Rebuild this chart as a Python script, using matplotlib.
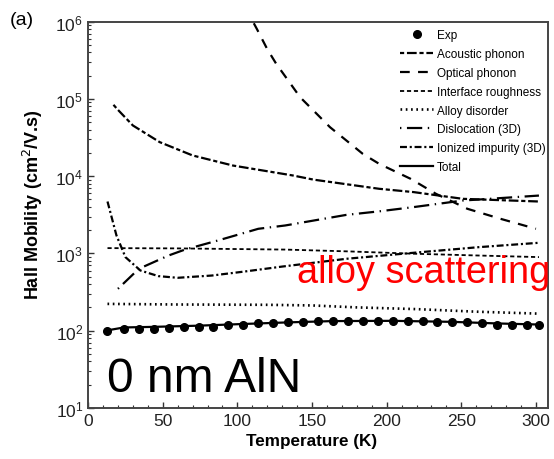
import numpy as np
import matplotlib
matplotlib.use("Agg")
from matplotlib import pyplot as plt
from matplotlib.ticker import MultipleLocator, LogLocator, NullFormatter

plt.rcParams["font.family"] = ["Liberation Sans", "DejaVu Sans"]
plt.rcParams["lines.scale_dashes"] = False

# ------------------------------------------------------------
# Dados
# ------------------------------------------------------------

T_exp = [13, 24, 34, 44, 54, 64, 74, 84, 94, 104, 114, 124, 134, 144, 154,
         164, 174, 184, 194, 204, 214, 224, 234, 244, 254, 264, 274, 284, 294, 302]
mu_exp = [99, 104, 104, 106, 109, 110, 113, 113, 117, 120, 124, 124, 129, 129, 133,
          133, 133, 133, 133, 133, 133, 133, 129, 129, 129, 125, 120, 120, 120, 117]

T_ac = [17, 20, 30, 48, 70, 97, 137, 151, 195, 218, 251, 302]
mu_ac = [83600, 72000, 45200, 27500, 18500, 13700, 10200, 9000, 6850, 6210, 5080, 4690]

T_op = [111, 113, 120, 126, 134, 142, 152, 162, 173, 184, 195, 216, 233, 254, 276, 300]
mu_op = [9.5e5, 8.05e5, 4.4e5, 2.84e5, 1.73e5, 1.05e5, 6.73e4, 4.3e4, 2.89e4,
         1.94e4, 1.44e4, 9230, 5900, 3780, 2810, 2080]

T_ir = [13, 60, 132, 175, 218, 260, 302]
mu_ir = [1170, 1160, 1120, 1060, 990, 940, 895]

T_al = [13, 60, 120, 150, 180, 220, 260, 302]
mu_al = [222, 218, 216, 212, 200, 190, 176, 166]

T_dis = [20, 34, 54, 65, 87, 114, 132, 173, 195, 218, 251, 262, 302]
mu_dis = [348, 632, 940, 1122, 1469, 2080, 2296, 3150, 3500, 3970, 4830, 4980, 5600]

T_ii = [13, 19, 25, 35, 47, 60, 83, 105, 130, 173, 218, 262, 302]
mu_ii = [4690, 1707, 895, 601, 508, 483, 517, 583, 675, 851, 1018, 1205, 1371]

T_tot = [13, 24, 44, 74, 104, 134, 164, 204, 244, 274, 302]
mu_tot = [101, 110, 112, 116, 122, 128, 133, 134, 130, 124, 120]

# ------------------------------------------------------------
# Figura
# ------------------------------------------------------------

fig = plt.figure(figsize=(5.54, 4.60), dpi=100)
ax = fig.add_axes([0.159, 0.111, 0.830, 0.840])

k = "black"
lw = 1.6
ax.plot(T_exp, mu_exp, "o", color=k, markersize=5.5, label="Exp")
ax.plot(T_ac, mu_ac, color=k, lw=lw, dashes=(3, 2, 7, 2), label="Acoustic phonon")
ax.plot(T_op, mu_op, color=k, lw=lw, dashes=(7, 6), label="Optical phonon")
ax.plot(T_ir, mu_ir, color=k, lw=1.3, dashes=(3, 2), label="Interface roughness")
ax.plot(T_al, mu_al, color=k, lw=1.9, dashes=(1.2, 2.6), label="Alloy disorder")
ax.plot(T_dis, mu_dis, color=k, lw=lw, dashes=(1, 4, 11, 4), label="Dislocation (3D)")
ax.plot(T_ii, mu_ii, color=k, lw=lw, dashes=(5, 2, 1.5, 2), label="Ionized impurity (3D)")
ax.plot(T_tot, mu_tot, color=k, lw=lw, label="Total")

ax.set_yscale("log")
ax.set_xlim(0, 308)
ax.set_ylim(10, 1e6)

ax.xaxis.set_major_locator(MultipleLocator(50))
ax.xaxis.set_minor_locator(MultipleLocator(10))
ax.yaxis.set_major_locator(LogLocator(base=10, numticks=10))
ax.yaxis.set_minor_locator(LogLocator(base=10, subs=np.arange(2, 10), numticks=20))
ax.yaxis.set_minor_formatter(NullFormatter())

ax.tick_params(which="both", direction="in", top=False, right=False,
               labelsize=12.5, labelcolor="#222222", color="#333333")
ax.tick_params(which="major", length=4, width=1)
ax.tick_params(which="minor", length=2.2, width=0.8)

for s in ax.spines.values():
    s.set_linewidth(1.4)
    s.set_color("#444444")

ax.set_xlabel("Temperature (K)", fontsize=12.3, fontweight="bold")
ax.xaxis.set_label_coords(0.487, -0.065)
ax.set_ylabel("Hall Mobility (cm$^2$/V.s)", fontsize=13, fontweight="bold")
ax.yaxis.set_label_coords(-0.093, 0.53)

ax.legend(loc="upper right", bbox_to_anchor=(1.012, 1.0), frameon=False,
          fontsize=8.5, handlelength=2.8, handletextpad=0.3, labelspacing=0.58,
          numpoints=1, borderaxespad=0.25)

fig.text(0.018, 0.955, "(a)", fontsize=14, va="center", ha="left")
ax.text(0.041, 0.044, "0 nm AlN", transform=ax.transAxes, fontsize=34.5,
        color="black", va="baseline", ha="left")
ax.text(0.455, 0.326, "alloy scattering", transform=ax.transAxes, fontsize=27.3,
        color="red", va="baseline", ha="left")

fig.savefig("out.png", dpi=100, facecolor="white")
